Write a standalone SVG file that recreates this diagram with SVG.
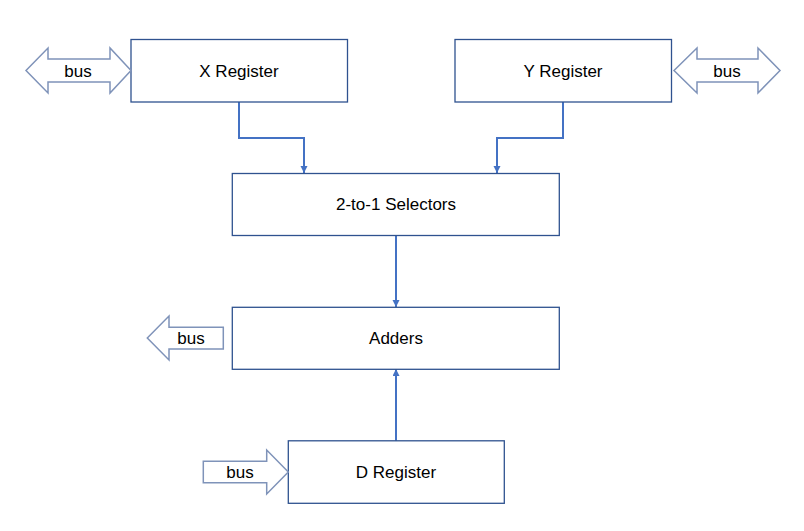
<svg xmlns="http://www.w3.org/2000/svg" width="804" height="531" viewBox="0 0 804 531">
<style>
.box{fill:#ffffff;stroke:#2F528F;stroke-width:1.3}
.bus{fill:#ffffff;stroke:#7F93B9;stroke-width:1.5;stroke-linejoin:miter}
.lbl{font-family:"Liberation Sans",Arial,sans-serif;font-size:17px;fill:#000000;text-anchor:middle}
.con{fill:none;stroke:#4472C4;stroke-width:2}
</style>
<defs>
<marker id="ah" markerUnits="userSpaceOnUse" markerWidth="8" markerHeight="8" refX="7" refY="3.5" orient="auto">
<path d="M0,0 L7,3.5 L0,7 z" fill="#4472C4"/>
</marker>
</defs>
<rect width="804" height="531" fill="#ffffff"/>
<g id="connectors">
<polyline class="con" points="239,102 239,138 304,138 304,173" marker-end="url(#ah)"/>
<polyline class="con" points="563,102 563,138 497,138 497,173" marker-end="url(#ah)"/>
<line class="con" x1="396" y1="235" x2="396" y2="307" marker-end="url(#ah)"/>
<line class="con" x1="396" y1="441" x2="396" y2="369" marker-end="url(#ah)"/>
</g>
<g id="x-register">
<rect class="box" x="131" y="39.5" width="216.5" height="62.5"/>
<text class="lbl" x="239" y="77">X Register</text>
</g>
<g id="x-bus">
<polygon class="bus" points="26,70.5 48,48 48,59 110,59 110,48 131,70.5 110,93 110,82 48,82 48,93"/>
<text class="lbl" x="78" y="77">bus</text>
</g>
<g id="y-register">
<rect class="box" x="455" y="39.5" width="216.5" height="62.5"/>
<text class="lbl" x="563" y="77">Y Register</text>
</g>
<g id="y-bus">
<polygon class="bus" points="674,70.5 697,48 697,59 758,59 758,48 780,70.5 758,93 758,82 697,82 697,93"/>
<text class="lbl" x="727" y="77">bus</text>
</g>
<g id="selectors">
<rect class="box" x="232.3" y="173.5" width="327" height="62"/>
<text class="lbl" x="396" y="210">2-to-1 Selectors</text>
</g>
<g id="adders">
<rect class="box" x="232.3" y="307.3" width="327" height="62"/>
<text class="lbl" x="396" y="344">Adders</text>
</g>
<g id="adders-bus">
<polygon class="bus" points="147.3,338 169,316 169,327.3 223.3,327.3 223.3,349 169,349 169,360"/>
<text class="lbl" x="191" y="344">bus</text>
</g>
<g id="d-register">
<rect class="box" x="288.3" y="440.8" width="216" height="62.5"/>
<text class="lbl" x="396" y="478">D Register</text>
</g>
<g id="d-bus">
<polygon class="bus" points="203.3,461.3 266.7,461.3 266.7,450 288.3,472 266.7,494 266.7,482.7 203.3,482.7"/>
<text class="lbl" x="240" y="478">bus</text>
</g>
</svg>
